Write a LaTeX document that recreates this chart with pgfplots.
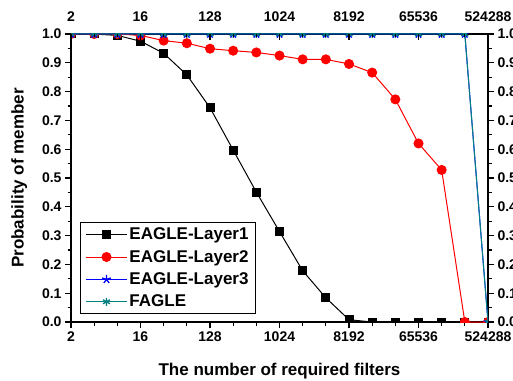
\documentclass[border=0pt]{standalone}
\usepackage{pgfplots}
\pgfplotsset{compat=1.18}
\usepackage{fontspec}
\setmainfont{Liberation Sans}
\definecolor{fagle}{RGB}{0,128,128}
\newcommand{\lf}{\fontsize{17}{19}\selectfont\bfseries}
\begin{document}
\begin{tikzpicture}
\clip (-71pt,-58pt) rectangle (442pt,322pt);
\begin{axis}[
  scale only axis, width=417pt, height=288pt,
  xmode=log, log basis x=2, xmin=2, xmax=524288, ymin=0, ymax=1,
  xtick={2,16,128,1024,8192,65536,524288},
  xticklabels={2,16,128,1024,8192,65536,524288},
  extra x ticks={4,8,32,64,256,512,2048,4096,16384,32768,131072,262144},
  extra x tick labels={},
  extra x tick style={major tick length=3.5pt},
  ytick={0,0.1,0.2,0.3,0.4,0.5,0.6,0.7,0.8,0.9,1.0},
  yticklabels={0.0,0.1,0.2,0.3,0.4,0.5,0.6,0.7,0.8,0.9,1.0},
  minor ytick={0.05,0.15,0.25,0.35,0.45,0.55,0.65,0.75,0.85,0.95},
  tick label style={font=\fontsize{14}{16}\selectfont\bfseries},
  major tick length=6pt, minor tick length=3.5pt,
  every tick/.style={black, line width=1.2pt},
  axis line style={line width=1.4pt},
  clip mode=individual, clip marker paths=true,
  tick align=outside,
  xtick pos=bottom, ytick pos=left,
  xlabel={\lf The number of required filters},
  ylabel={\lf Probability of member},
  xlabel style={yshift=-5pt},
  ylabel style={yshift=8pt},
  legend style={at={(rel axis cs:0.0216,0.028)}, anchor=south west,
    draw=black, line width=1pt,
    row sep=5pt, inner xsep=5pt, inner ysep=3pt},
  legend cell align=left,
  legend image code/.code={\draw[mark repeat=2,mark phase=2,line width=1pt] plot coordinates {(0cm,0cm) (0.72cm,0cm) (1.44cm,0cm)};},
]
\addplot[black, line width=1pt, mark=square*, mark size=4pt] coordinates {
(2,1.0) (4,1.0) (8,0.995) (16,0.975) (32,0.933) (64,0.858) (128,0.744) (256,0.597)
(512,0.451) (1024,0.314) (2048,0.178) (4096,0.084) (8192,0.008) (16384,0) (32768,0)
(65536,0) (131072,0) (262144,0) (524288,0)};
\addlegendentry{\lf EAGLE-Layer1}
\addplot[red, line width=1pt, mark=*, mark size=4.5pt] coordinates {
(2,1.0) (4,1.0) (8,1.0) (16,0.995) (32,0.977) (64,0.968) (128,0.949) (256,0.942)
(512,0.936) (1024,0.925) (2048,0.912) (4096,0.912) (8192,0.896) (16384,0.866)
(32768,0.773) (65536,0.620) (131072,0.528) (262144,0) (524288,0)};
\addlegendentry{\lf EAGLE-Layer2}
\addplot[blue, line width=1pt, mark=star, mark size=4.5pt, mark options={line width=1.3pt}] coordinates {
(2,1) (4,1) (8,1) (16,1) (32,1) (64,1) (128,1) (256,1) (512,1) (1024,1) (2048,1)
(4096,1) (8192,1) (16384,1) (32768,1) (65536,1) (131072,1) (262144,1) (524288,0)};
\addlegendentry{\lf EAGLE-Layer3}
\addplot[fagle, line width=1pt, mark=asterisk, mark size=4pt, mark options={line width=1.3pt}] coordinates {
(2,1) (4,1) (8,1) (16,1) (32,1) (64,1) (128,1) (256,1) (512,1) (1024,1) (2048,1)
(4096,1) (8192,1) (16384,1) (32768,1) (65536,1) (131072,1) (262144,1) (524288,0)};
\addlegendentry{\lf FAGLE}
\end{axis}
\begin{axis}[
  scale only axis, width=417pt, height=288pt,
  xmode=log, log basis x=2, xmin=2, xmax=524288, ymin=0, ymax=1,
  axis line style={draw=none},
  xtick={2,16,128,1024,8192,65536,524288},
  xticklabels={2,16,128,1024,8192,65536,524288},
  extra x ticks={4,8,32,64,256,512,2048,4096,16384,32768,131072,262144},
  extra x tick labels={},
  extra x tick style={major tick length=3.5pt},
  ytick=\empty,
  tick label style={font=\fontsize{14}{16}\selectfont\bfseries},
  major tick length=6pt,
  every tick/.style={black, line width=1.2pt},
  tick align=inside, xtick pos=top, xticklabel pos=top,
  xticklabel style={yshift=9pt},
]
\addplot[draw=none] coordinates {(2,0) (524288,1)};
\end{axis}
\begin{axis}[
  scale only axis, width=417pt, height=288pt,
  xmin=0, xmax=1, ymin=0, ymax=1,
  axis line style={draw=none},
  xtick=\empty,
  ytick={0,0.1,0.2,0.3,0.4,0.5,0.6,0.7,0.8,0.9,1.0},
  yticklabels={0.0,0.1,0.2,0.3,0.4,0.5,0.6,0.7,0.8,0.9,1.0},
  minor ytick={0.05,0.15,0.25,0.35,0.45,0.55,0.65,0.75,0.85,0.95},
  tick label style={font=\fontsize{14}{16}\selectfont\bfseries},
  major tick length=6pt, minor tick length=3.5pt,
  every tick/.style={black, line width=1.2pt},
  tick align=outside, ytick pos=right, yticklabel pos=right,
]
\addplot[draw=none] coordinates {(0,0) (1,1)};
\end{axis}
\end{tikzpicture}
\end{document}
